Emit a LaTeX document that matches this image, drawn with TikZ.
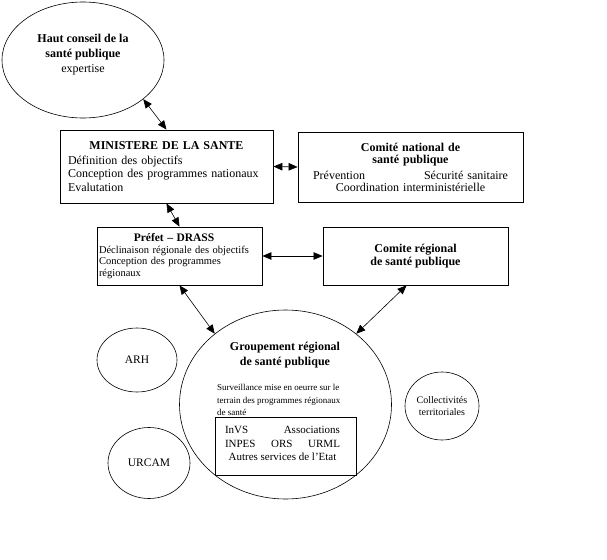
\documentclass[tikz,border=0pt]{standalone}
\usepackage{fontspec}
\setmainfont{Liberation Serif}
\usetikzlibrary{positioning, arrows.meta, shapes.geometric}

\begin{document}
\begin{tikzpicture}[
  x=1pt, y=-1pt,
  every node/.style={font=\fontsize{12}{13.5}\selectfont},
  box/.style={
    rectangle, draw, line width=0.8pt, inner sep=0pt
  },
  oval/.style={
    ellipse, draw, line width=0.6pt, inner sep=0pt, align=center
  },
  plain/.style={inner sep=0pt},
  small/.style={font=\fontsize{10.5}{11.7}\selectfont},
  link/.style={<->, line width=0.6pt},
  >={Triangle[length=9pt, width=7.5pt]}
]
\useasboundingbox (0,0) rectangle (607,559);

% ---- National level ----
\node[oval, minimum width=162pt, minimum height=116pt] (haut) at (83,60) {};
\node[plain, align=center] (hauttxt) at (83,55)
  {\textbf{Haut conseil de la}\\[1.5pt]
   \textbf{santé publique}\\[1.5pt]
   expertise};

\node[box, minimum width=213pt, minimum height=73pt,
      text width=197pt, align=left] (ministere) at (166.5,166.5)
  {\makebox[197pt]{\textbf{MINISTERE DE LA SANTE}}\\[1.5pt]
   Définition des objectifs\\
   Conception des programmes nationaux\\
   Evalutation};

\node[box, minimum width=225pt, minimum height=70pt,
      text width=195pt, align=center,
      font=\fontsize{12}{12}\selectfont] (cnsp) at (410.5,167)
  {\textbf{Comité national de}\\
   \textbf{santé publique}\\[4pt]
   \makebox[195pt]{Prévention\hfill Sécurité sanitaire}\\
   Coordination interministérielle};

% ---- Regional level ----
\node[box, small, minimum width=165pt, minimum height=58pt,
      text width=161pt, align=left] (prefet) at (179.5,256)
  {\makebox[150pt]{\fontsize{11.5}{11.7}\selectfont\textbf{Préfet – DRASS}}\\
   Déclinaison régionale des objectifs\\
   Conception des programmes\\
   régionaux};

\node[box, minimum width=185pt, minimum height=58pt, align=center,
      font=\fontsize{12}{12.5}\selectfont] (crsp) at (415.5,256)
  {\textbf{Comite régional}\\
   \textbf{de santé publique}};

% ---- Groupement regional ----
\node[oval, minimum width=212pt, minimum height=189pt] (grsp) at (285.5,404.5) {};
\node[plain, align=center] (grsptitle) at (285,355.5)
  {\textbf{Groupement régional}\\[1.5pt]
   \textbf{de santé publique}};
\node[plain, align=left, anchor=west,
      font=\fontsize{9}{12.5}\selectfont] (grspnote) at (217,400)
  {Surveillance mise en oeurre sur le\\
   terrain des programmes régionaux\\
   de santé};
\node[box, minimum width=141pt, minimum height=58pt] (partners) at (285.5,446) {};
\node[plain, align=center, font=\fontsize{11}{13.5}\selectfont]
  (partnerstxt) at (282.5,443.5)
  {\makebox[115pt]{InVS\hfill Associations}\\
   \makebox[115pt]{INPES\hfill ORS\hfill URML}\\
   Autres services de l’Etat};

% ---- Other actors ----
\node[oval, minimum width=80pt, minimum height=64pt,
      font=\fontsize{11.5}{13}\selectfont] (arh) at (137,360) {ARH};
\node[oval, minimum width=82pt, minimum height=71pt,
      font=\fontsize{11.5}{13}\selectfont] (urcam) at (149,463) {URCAM};
\node[oval, minimum width=74pt, minimum height=68pt,
      font=\fontsize{10}{12}\selectfont] (collect) at (442,406)
  {Collectivités\\territoriales};

% ---- Links ----
\draw[link] (haut.-33) -- (ministere.north);
\draw[link] (ministere.east) -- (cnsp.west);
\draw[link] (ministere.south) -- (prefet.north);
\draw[link] (prefet.east) -- (crsp.west);
\draw[link] (prefet.south) -- (grsp.135);
\draw[link] (crsp.-107) -- (grsp.45);

\end{tikzpicture}
\end{document}
